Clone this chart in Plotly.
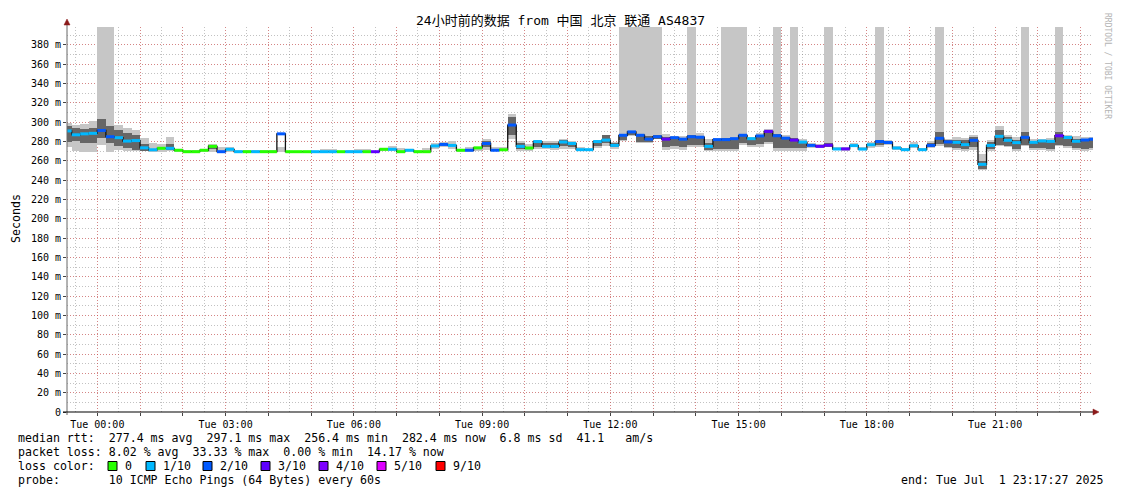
import plotly.graph_objects as go
from datetime import datetime, timedelta

# ---------------- data ----------------
first_bin = "2025-06-30 23:12:00"
bin_minutes = 12
range_start = "2025-06-30 23:17:27"
range_end = "2025-07-01 23:17:27"

median_ms = [
    291.0, 287.0, 288.0, 288.5,
    291.5, 285.0, 284.0, 280.5, 281.0, 273.5, 271.5, 273.0, 273.0, 271.0,
    269.5, 269.5, 271.0, 275.0, 269.5, 272.0, 269.5, 269.5, 269.5, 269.5,
    269.5, 288.0, 269.5, 269.5, 269.5, 269.5, 269.5, 269.5, 269.5, 269.5,
    269.5, 269.5, 269.5, 272.0, 272.0, 269.5, 271.0, 269.5, 269.5, 275.5,
    277.0, 276.0, 271.0, 271.0, 273.5, 278.0, 271.0, 271.5, 297.1, 275.0,
    273.3, 280.0, 275.0, 275.0, 279.5, 278.0, 271.6, 271.6, 280.0, 281.5,
    276.0, 286.5, 290.0, 286.5, 282.5, 285.0, 282.5, 284.0, 282.5, 285.0,
    284.5, 275.0, 282.0, 282.0, 283.0, 286.5, 283.0, 285.8, 290.5, 286.0,
    283.5, 281.5, 279.4, 276.0, 275.0, 276.2, 272.3, 272.4, 275.8, 272.2,
    276.7, 280.0, 279.0, 273.3, 271.6, 275.7, 271.6, 276.0, 283.4, 279.6,
    279.2, 276.8, 281.3, 256.4, 276.0, 285.4, 281.3, 278.9, 284.4, 279.2,
    280.6, 280.2, 286.0, 284.2, 280.3, 281.6, 282.4,
]

loss_class = [
    1, 1, 1, 1,
    2, 2, 1, 1, 1, 1, 1, 0, 1, 0,
    0, 0, 0, 0, 2, 1, 1, 0, 1, 0,
    0, 2, 0, 0, 0, 1, 1, 1, 0, 1,
    1, 0, 3, 0, 1, 0, 1, 0, 0, 1,
    2, 1, 0, 2, 0, 2, 2, 0, 2, 1,
    0, 1, 1, 1, 1, 1, 1, 1, 1, 1,
    1, 2, 2, 2, 2, 2, 3, 2, 2, 2,
    2, 1, 2, 2, 2, 2, 1, 2, 3, 2,
    2, 3, 1, 2, 3, 3, 1, 3, 1, 1,
    1, 2, 2, 1, 1, 1, 1, 2, 2, 2,
    1, 1, 2, 1, 1, 1, 1, 1, 2, 1,
    1, 1, 3, 1, 1, 2, 2,
]

smoke_lo = [
    274.5, 270.5, 269.0, 269.0,
    276.5, 269.0, 271.5, 270.0, 270.0, 270.0, 269.0, 269.0, 270.0, 269.0,
    269.0, 269.0, 269.0, 269.0, 269.0, 269.0, 269.0, 269.0, 269.0, 269.0,
    269.0, 269.0, 269.0, 269.0, 269.0, 269.0, 269.0, 269.0, 269.0, 269.0,
    269.0, 269.0, 269.0, 270.5, 270.5, 269.0, 269.0, 269.0, 269.0, 272.5,
    274.5, 272.0, 269.0, 269.0, 270.5, 271.6, 270.5, 272.0, 283.0, 270.5,
    270.5, 272.3, 272.6, 271.6, 272.6, 272.3, 270.0, 270.0, 273.3, 275.0,
    272.6, 281.0, 285.8, 279.0, 279.0, 282.3, 271.3, 272.0, 271.3, 274.7,
    274.7, 270.5, 270.5, 270.5, 270.5, 276.1, 274.7, 274.7, 277.5, 270.5,
    270.0, 270.0, 270.5, 273.5, 273.0, 274.0, 271.0, 270.5, 274.0, 271.0,
    273.0, 274.0, 276.8, 271.6, 270.5, 273.3, 270.5, 273.3, 275.0, 273.3,
    271.6, 270.5, 271.6, 250.9, 270.5, 275.0, 274.0, 270.5, 275.0, 271.6,
    271.6, 270.5, 275.0, 273.3, 271.6, 270.5, 271.6,
]

smoke_hi = [
    299.5, 297.5, 298.0, 301.0,
    400.0, 400.0, 297.0, 294.0, 292.0, 283.5, 278.5, 277.5, 285.0, 272.6,
    271.0, 271.0, 272.3, 277.5, 274.0, 274.0, 271.5, 271.5, 271.0, 271.0,
    271.0, 274.5, 270.5, 270.5, 270.5, 270.5, 272.0, 272.0, 270.5, 271.0,
    272.0, 272.0, 270.5, 273.5, 275.0, 273.0, 272.0, 271.0, 273.0, 278.5,
    279.5, 281.0, 272.6, 274.0, 274.5, 283.0, 274.7, 274.0, 308.5, 280.3,
    277.5, 282.0, 280.3, 281.0, 282.7, 280.3, 274.0, 272.6, 281.3, 286.5,
    279.2, 400.0, 400.0, 400.0, 400.0, 400.0, 287.5, 285.8, 285.8, 400.0,
    288.5, 282.3, 283.4, 400.0, 400.0, 400.0, 284.4, 288.5, 292.7, 400.0,
    287.0, 400.0, 283.0, 278.0, 277.0, 400.0, 274.0, 274.0, 278.0, 274.0,
    280.0, 400.0, 282.0, 275.4, 273.0, 279.2, 273.0, 280.3, 400.0, 282.7,
    284.7, 283.7, 286.5, 267.0, 281.3, 295.8, 287.0, 284.4, 400.0, 282.7,
    282.7, 283.7, 400.0, 287.0, 285.7, 284.4, 284.4,
]

core_lo = [
    280.0, 281.0, 278.0, 278.0,
    284.0, 278.0, 275.0, 273.5, 271.5, 270.5, None, None, 271.0, None,
    None, None, None, 272.0, None, None, None, None, None, None,
    None, None, None, None, None, None, None, None, None, None,
    None, None, None, None, None, None, None, None, None, None,
    None, None, None, None, None, 274.0, None, None, 287.0, 272.5,
    None, 274.0, 274.0, 273.0, 275.4, 274.0, None, None, 275.0, 278.5,
    274.0, 282.0, 287.0, 280.0, 280.0, 283.0, 274.0, 275.0, 274.0, 276.0,
    276.0, 271.5, 272.0, 272.0, 272.0, 278.0, 276.0, 277.0, 280.0, 273.0,
    273.0, 273.0, 273.0, None, None, 274.0, None, None, None, None,
    None, 276.0, None, None, None, None, None, 274.5, 277.0, 274.5,
    273.0, 272.0, 274.0, 252.0, 272.5, 276.8, 275.0, 272.0, 276.8, 273.0,
    273.0, 272.0, 276.8, 275.0, 273.0, 272.0, 273.0,
]

core_hi = [
    296.0, 294.0, 293.5, 294.0,
    303.0, 296.0, 292.0, 289.0, 287.0, 277.0, None, None, 277.0, None,
    None, None, None, 276.0, None, None, None, None, None, None,
    None, None, None, None, None, None, None, None, None, None,
    None, None, None, None, None, None, None, None, None, None,
    None, None, None, None, None, 280.3, None, None, 305.0, 278.5,
    None, 280.3, 279.0, 279.0, 281.3, 279.0, None, None, 280.0, 286.5,
    278.0, 288.0, 291.0, 287.5, 286.0, 287.0, 285.0, 284.0, 284.0, 287.0,
    286.0, 278.0, 281.0, 284.0, 284.0, 288.0, 283.0, 286.0, 291.0, 288.0,
    285.0, 284.0, 281.0, None, None, 279.0, None, None, None, None,
    None, 282.0, None, None, None, None, None, 279.0, 290.0, 281.3,
    282.0, 281.3, 284.5, 259.6, 280.0, 292.3, 285.0, 282.0, 290.0, 281.0,
    281.0, 282.0, 290.0, 285.0, 283.0, 282.0, 282.0,
]

loss_labels = ["0", "1/10", "2/10", "3/10", "4/10", "5/10", "9/10"]
loss_colors = ["#26ff00", "#00b8ff", "#0059ff", "#5e00ff", "#7e00ff", "#dd00ff", "#ff0000"]

y_tick_vals = list(range(0, 400, 20))
y_tick_text = ["0"] + [f"{v} m" for v in range(20, 400, 20)]

x_tick_hours = list(range(0, 24))
x_tick_text = [f"Tue {h:02d}:00" if h % 3 == 0 else "" for h in x_tick_hours]

title_text = "24小时前的数据 from 中国 北京 联通 AS4837"
stats_lines = [
    "median rtt:  277.4 ms avg  297.1 ms max  256.4 ms min  282.4 ms now  6.8 ms sd  41.1   am/s",
    "packet loss: 8.02 % avg  33.33 % max  0.00 % min  14.17 % now",
    "loss color:",
    "probe:       10 ICMP Echo Pings (64 Bytes) every 60s",
]
end_text = "end: Tue Jul  1 23:17:27 2025"

# ---------------- build ----------------
t0 = datetime.strptime(first_bin, "%Y-%m-%d %H:%M:%S")
step = timedelta(minutes=bin_minutes)
n = len(median_ms)
starts = [t0 + i * step for i in range(n)]
ends = [s + step for s in starts]
centers = [s + step / 2 for s in starts]
width_ms = bin_minutes * 60 * 1000

fig = go.Figure()

fig.add_trace(go.Bar(
    x=centers, base=smoke_lo, y=[h - l for l, h in zip(smoke_lo, smoke_hi)],
    width=[width_ms] * n, marker=dict(color="#c6c6c6", line=dict(width=0)),
    showlegend=False, hoverinfo="skip"))

fig.add_trace(go.Bar(
    x=centers, base=core_lo,
    y=[(h - l) if (h is not None and l is not None) else None for l, h in zip(core_lo, core_hi)],
    width=[width_ms] * n, marker=dict(color="#666666", line=dict(width=0)),
    showlegend=False, hoverinfo="skip"))

fig.add_trace(go.Scatter(
    x=starts + [ends[-1]], y=median_ms + [median_ms[-1]], mode="lines",
    line=dict(color="#111111", width=1.3, shape="hv"),
    showlegend=False, hoverinfo="skip"))

for c, col in enumerate(loss_colors):
    xs, ys = [], []
    for i in range(n):
        if loss_class[i] == c:
            xs += [starts[i], ends[i], None]
            ys += [median_ms[i], median_ms[i], None]
    if xs:
        fig.add_trace(go.Scatter(
            x=xs, y=ys, mode="lines", line=dict(color=col, width=3),
            connectgaps=False, showlegend=False, hoverinfo="skip"))

# the page places the figure 8px from the top-left corner (body margin)
OFF = 8
W, H = 1121 - OFF, 494 - OFF
# plot area in screenshot pixels
SX0, SX1, SY0, SY1 = 67, 1093, 27, 412
L, T = SX0 - OFF, SY0 - OFF
R, B = W - (SX1 - OFF), H - (SY1 - OFF)
PW, PH = SX1 - SX0, SY1 - SY0


def px(x):
    return (x - SX0) / PW


def py(y):
    return (SY1 - y) / PH


mono = "DejaVu Sans Mono"
annotations = []
shapes = []

annotations.append(dict(text=title_text, x=px(560), y=py(21), xref="paper", yref="paper",
                        showarrow=False, xanchor="center", yanchor="middle",
                        font=dict(family=mono + ", Noto Sans CJK SC", size=13, color="#000")))
annotations.append(dict(text="Seconds", x=px(16), y=py(219), xref="paper", yref="paper",
                        showarrow=False, xanchor="center", yanchor="middle", textangle=-90,
                        font=dict(family=mono, size=11.6, color="#000")))
annotations.append(dict(text="RRDTOOL / TOBI OETIKER", x=px(1108), y=py(66), xref="paper", yref="paper",
                        showarrow=False, xanchor="center", yanchor="middle", textangle=90,
                        font=dict(family=mono, size=8, color="#b4b4b4")))

line_y = [438, 452, 466, 480]
for txt, yy in zip(stats_lines, line_y):
    annotations.append(dict(text=txt.replace(" ", "\u00a0"), x=px(16), y=py(yy), xref="paper", yref="paper",
                            showarrow=False, xanchor="left", yanchor="middle",
                            font=dict(family=mono, size=11.6, color="#000")))
annotations.append(dict(text=end_text.replace(" ", "\u00a0"), x=px(1105), y=py(480), xref="paper", yref="paper",
                        showarrow=False, xanchor="right", yanchor="middle",
                        font=dict(family=mono, size=11.6, color="#000")))

legend_box_x = [108, 146, 203, 261, 319, 377, 436]
for bx, lab, col in zip(legend_box_x, loss_labels, loss_colors):
    shapes.append(dict(type="rect", xref="paper", yref="paper",
                       x0=px(bx), x1=px(bx + 9), y0=py(470.5), y1=py(461.5),
                       fillcolor=col, line=dict(color="#000", width=1)))
    annotations.append(dict(text=lab, x=px(bx + 15), y=py(466), xref="paper", yref="paper",
                            showarrow=False, xanchor="left", yanchor="middle",
                            font=dict(family=mono, size=11.6, color="#000")))

# axis lines and arrows
shapes.append(dict(type="line", xref="paper", yref="paper", x0=px(67), x1=px(67), y0=py(415), y1=py(24),
                   line=dict(color="#666666", width=1)))
shapes.append(dict(type="line", xref="paper", yref="paper", x0=px(63), x1=px(1094), y0=py(412), y1=py(412),
                   line=dict(color="#000000", width=1.2)))
shapes.append(dict(type="path", xref="paper", yref="paper",
                   path=f"M {px(64)} {py(25)} L {px(70)} {py(25)} L {px(67)} {py(19)} Z",
                   fillcolor="#8b1a1a", line=dict(color="#8b1a1a", width=0.5)))
shapes.append(dict(type="path", xref="paper", yref="paper",
                   path=f"M {px(1093)} {py(409)} L {px(1093)} {py(415)} L {px(1099)} {py(412)} Z",
                   fillcolor="#8b1a1a", line=dict(color="#8b1a1a", width=0.5)))

major_grid = "rgba(235,60,60,0.45)"
minor_grid = "rgba(120,120,120,0.45)"
dash = "1px,2px"

fig.update_layout(
    width=W, height=H,
    margin=dict(l=L, r=R, t=T, b=B, pad=0, autoexpand=False),
    paper_bgcolor="#ffffff", plot_bgcolor="#ffffff",
    barmode="overlay", bargap=0,
    showlegend=False,
    annotations=annotations, shapes=shapes,
    xaxis=dict(
        type="date", range=[range_start, range_end],
        tickvals=[datetime(2025, 7, 1, h) for h in x_tick_hours], ticktext=x_tick_text,
        showgrid=True, gridcolor=major_grid, griddash=dash, gridwidth=1,
        minor=dict(dtick=30 * 60 * 1000, tick0="2025-07-01 00:00", showgrid=True,
                   gridcolor=minor_grid, griddash=dash, gridwidth=1),
        ticks="outside", ticklen=3, tickcolor="#444", showline=False, zeroline=False,
        tickfont=dict(family=mono, size=10, color="#000"), automargin=False,
    ),
    yaxis=dict(
        range=[0, 398.6], tickvals=y_tick_vals, ticktext=y_tick_text,
        showgrid=True, gridcolor=major_grid, griddash=dash, gridwidth=1,
        minor=dict(dtick=10, tick0=0, showgrid=True, gridcolor=minor_grid, griddash=dash, gridwidth=1),
        ticks="outside", ticklen=3, tickcolor="#444", showline=False, zeroline=False,
        tickfont=dict(family=mono, size=10, color="#000"), automargin=False,
    ),
)

fig.write_html("out.html")
